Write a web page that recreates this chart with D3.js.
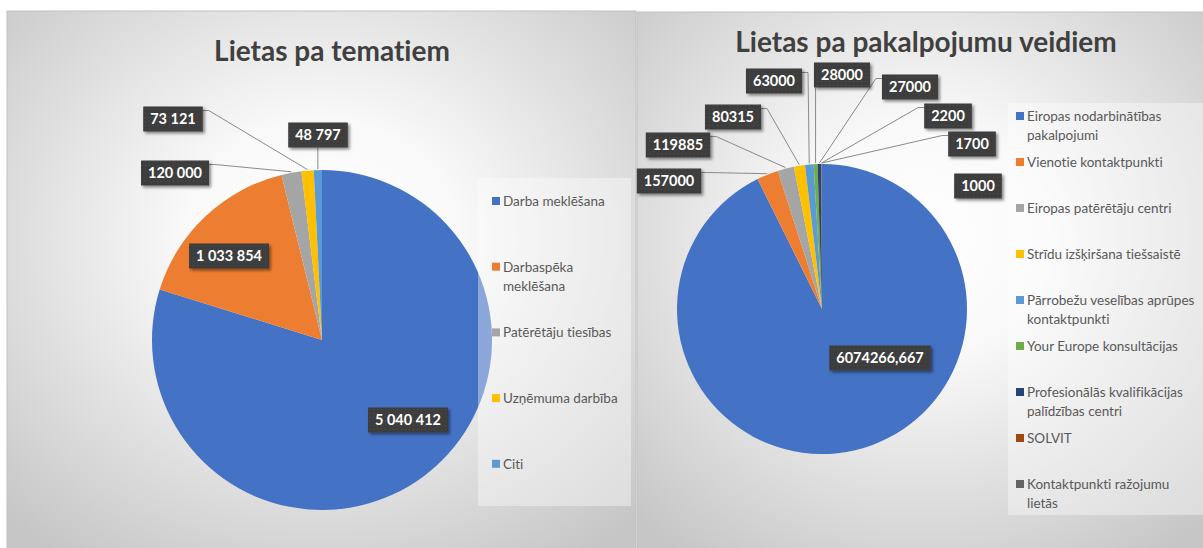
<!DOCTYPE html>
<html>
<head>
<meta charset="utf-8">
<script src="https://cdn.jsdelivr.net/npm/d3@7"></script>
<style>
  body { margin: 0; background: #fff; }
  svg { display: block; font-family: Lato, "Noto Sans", sans-serif; font-variant-ligatures: none; }
</style>
</head>
<body>
<div id="chart"></div>
<script>
// left chart: cases by topic
const topicNames = ["Darba meklēšana", "Darbaspēka meklēšana", "Patērētāju tiesības", "Uzņēmuma darbība", "Citi"];
const topicLegend = [["Darba meklēšana"], ["Darbaspēka", "meklēšana"], ["Patērētāju tiesības"], ["Uzņēmuma darbība"], ["Citi"]];
const topicValues = [5040412, 1033854, 120000, 73121, 48797];

// right chart: cases by service type (the last one has no legend entry in the original)
const serviceNames = ["Eiropas nodarbinātības pakalpojumi", "Vienotie kontaktpunkti", "Eiropas patērētāju centri",
  "Strīdu izšķiršana tiešsaistē", "Pārrobežu veselības aprūpes kontaktpunkti", "Your Europe konsultācijas",
  "Profesionālās kvalifikācijas palīdzības centri", "SOLVIT", "Kontaktpunkti ražojumu lietās", ""];
const serviceLegend = [["Eiropas nodarbinātības", "pakalpojumi"], ["Vienotie kontaktpunkti"], ["Eiropas patērētāju centri"],
  ["Strīdu izšķiršana tiešsaistē"], ["Pārrobežu veselības aprūpes", "kontaktpunkti"], ["Your Europe konsultācijas"],
  ["Profesionālās kvalifikācijas", "palīdzības centri"], ["SOLVIT"], ["Kontaktpunkti ražojumu", "lietās"]];
const serviceValues = [6074266.667, 157000, 119885, 80315, 63000, 28000, 27000, 2200, 1700, 1000];

const officeColors = ["#4472c4", "#ed7d31", "#a5a5a5", "#ffc000", "#5b9bd5", "#70ad47", "#264478", "#9e480e", "#636363", "#997300"];

// data label boxes were placed by hand in the original, so keep their centres here
const topicLabelPos = [[408, 420, false], [229, 256, false], [175, 173, true], [173, 119, true], [318, 135, true]];
const serviceLabelPos = [[880, 358, false], [669, 181, true], [678, 145, true], [733, 117, true], [774, 81, true],
  [842, 75, true], [910, 87, true], [948, 116, true], [972, 144, true], [978, 186, false]];

const W = 1203, H = 548;

const svg = d3.select("#chart").append("svg")
    .attr("width", W)
    .attr("height", H);

let defs = svg.append("defs");

let grad = defs.append("radialGradient")
    .attr("id", "bg")
    .attr("cx", 0.5).attr("cy", 0.42).attr("r", 0.72);
grad.append("stop").attr("offset", 0).attr("stop-color", "#ffffff");
grad.append("stop").attr("offset", 0.3).attr("stop-color", "#f9f9f9");
grad.append("stop").attr("offset", 1).attr("stop-color", "#c6c6c6");

let pat = defs.append("pattern")
    .attr("id", "dots")
    .attr("width", 4).attr("height", 4)
    .attr("patternUnits", "userSpaceOnUse");
pat.append("rect").attr("width", 4).attr("height", 4).attr("fill", "#3c3c3c");
pat.append("rect").attr("x", 1).attr("y", 1).attr("width", 1).attr("height", 1).attr("fill", "#4d4d4d");

defs.append("filter")
    .attr("id", "shadow")
    .attr("x", -0.2).attr("y", -0.3).attr("width", 1.5).attr("height", 1.8)
  .append("feDropShadow")
    .attr("dx", 2).attr("dy", 2)
    .attr("stdDeviation", 1.5)
    .attr("flood-color", "#000")
    .attr("flood-opacity", 0.45);

const numTopic = d3.formatLocale({decimal: ",", thousands: " ", grouping: [3], currency: ["", ""]}).format(",");
const numService = d3.formatLocale({decimal: ",", thousands: "", grouping: [3], currency: ["", ""]}).format(".3~f");

function drawPanel(cfg) {
    let g = svg.append("g");

    g.append("rect")
        .attr("x", cfg.panel[0]).attr("y", cfg.panel[1])
        .attr("width", cfg.panel[2]).attr("height", cfg.panel[3])
        .attr("fill", "url(#bg)")
        .attr("stroke", "#c2c2c2")
        .attr("stroke-width", 1);

    g.append("text")
        .attr("x", cfg.title[1]).attr("y", cfg.title[2])
        .attr("text-anchor", "middle")
        .attr("font-size", 28)
        .attr("font-weight", "bold")
        .attr("fill", "#404040")
        .text(cfg.title[0]);

    let color = d3.scaleOrdinal().domain(d3.range(cfg.values.length)).range(officeColors);

    let pie = d3.pie().sort(null).value(d => d)(cfg.values);
    let arc = d3.arc().innerRadius(0).outerRadius(cfg.r);

    let pieG = g.append("g").attr("transform", `translate(${cfg.cx},${cfg.cy})`);
    pieG.selectAll("path")
        .data(pie)
        .join("path")
        .attr("d", arc)
        .attr("fill", (d, i) => color(i));

    // legend
    let lg = g.append("g");
    lg.append("rect")
        .attr("x", cfg.legendBox[0]).attr("y", cfg.legendBox[1])
        .attr("width", cfg.legendBox[2]).attr("height", cfg.legendBox[3])
        .attr("fill", "#fff")
        .attr("fill-opacity", 0.38);

    let item = lg.selectAll("g.item")
        .data(cfg.legend)
        .join("g")
        .attr("class", "item")
        .attr("transform", (d, i) => `translate(${cfg.legendX},${cfg.legendY + i * cfg.legendStep})`);
    item.append("rect")
        .attr("x", 0).attr("y", -4)
        .attr("width", 8).attr("height", 8)
        .attr("fill", (d, i) => color(i));
    item.append("text")
        .attr("x", 11)
        .attr("font-size", 13.5)
        .attr("fill", "#595959")
        .selectAll("tspan")
        .data(d => d)
        .join("tspan")
        .attr("x", 11)
        .attr("y", (d, j) => 5 + j * 19)
        .text(d => d);

    // data labels with leader lines
    let labG = g.append("g");
    pie.forEach((d, i) => {
        let [bx, by, hasLine] = cfg.labelPos[i];
        let txt = cfg.fmt(cfg.values[i]);
        let t = labG.append("text")
            .attr("font-size", 14.5)
            .attr("font-weight", "bold")
            .attr("fill", "#fff")
            .attr("text-anchor", "middle")
            .text(txt);
        let w = t.node().getComputedTextLength() + 14, h = 25;
        let x0 = bx - w / 2, y0 = by - h / 2;

        if (hasLine) {
            let a = (d.startAngle + d.endAngle) / 2;
            let tx = cfg.cx + (cfg.r + 1) * Math.sin(a), ty = cfg.cy - (cfg.r + 1) * Math.cos(a);
            let pts;
            if (tx > x0 + w) pts = [[x0 + w, y0 + 4], [x0 + w + 6, y0 + 4], [tx, ty]];
            else if (tx < x0) pts = [[x0, y0 + 4], [x0 - 6, y0 + 4], [tx, ty]];
            else pts = [[tx, y0 + h], [tx, ty]];
            labG.insert("path", "text")
                .attr("d", d3.line()(pts))
                .attr("fill", "none")
                .attr("stroke", "#8a8a8a")
                .attr("stroke-width", 1);
        }

        labG.insert("rect", "text:last-of-type")
            .attr("x", x0).attr("y", y0)
            .attr("width", w).attr("height", h)
            .attr("fill", "url(#dots)")
            .attr("filter", "url(#shadow)");
        t.attr("x", bx).attr("y", by + 5).raise();
    });
}

drawPanel({
    panel: [7, 11, 629, 540],
    title: ["Lietas pa tematiem", 332, 61],
    cx: 322, cy: 340, r: 170,
    values: topicValues,
    legend: topicLegend,
    legendBox: [478, 178, 153, 328],
    legendX: 492, legendY: 201, legendStep: 65.7,
    labelPos: topicLabelPos,
    fmt: numTopic
});

drawPanel({
    panel: [637, 12, 570, 540],
    title: ["Lietas pa pakalpojumu veidiem", 926, 52],
    cx: 822, cy: 309, r: 145,
    values: serviceValues,
    legend: serviceLegend,
    legendBox: [1008, 103, 200, 412],
    legendX: 1016, legendY: 116, legendStep: 46,
    labelPos: serviceLabelPos,
    fmt: numService
});
</script>
</body>
</html>
